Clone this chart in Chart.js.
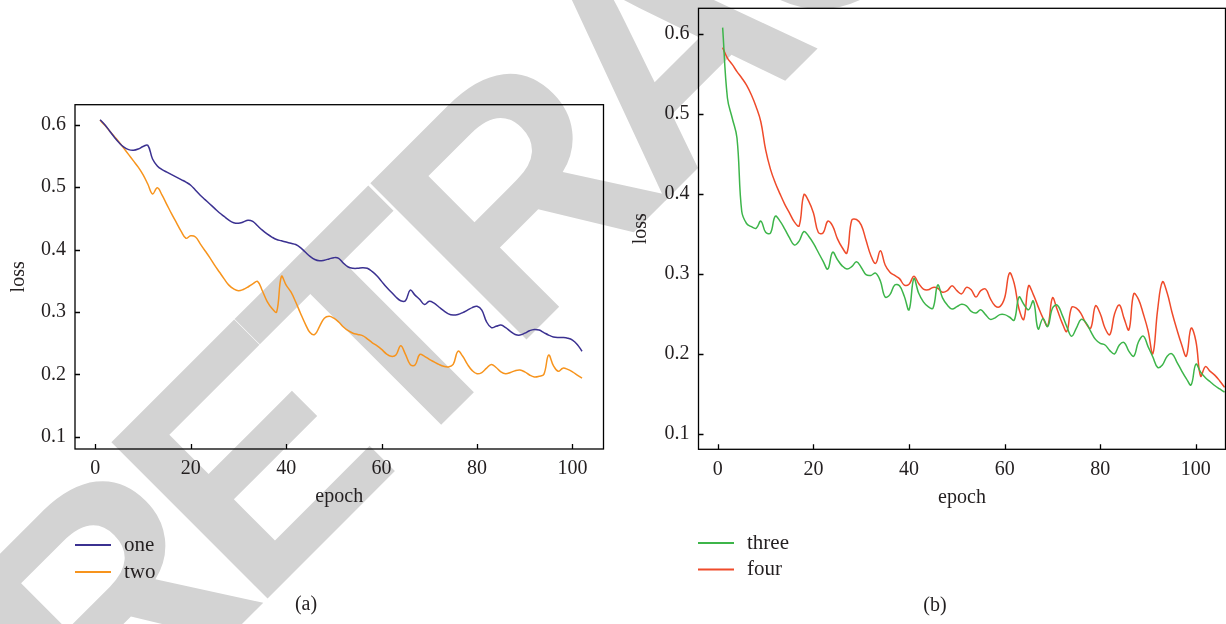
<!DOCTYPE html>
<html>
<head>
<meta charset="utf-8">
<script src="https://cdn.jsdelivr.net/npm/chart.js@4.4.0/dist/chart.umd.min.js"></script>
<style>
  html, body { margin: 0; padding: 0; background: #fff; }
  body { width: 1226px; height: 624px; position: relative; overflow: hidden; }
  #stamp {
    position: absolute; left: 104px; top: 490px;
    font: bold 321px "Liberation Sans", Arial, sans-serif;
    line-height: 1; letter-spacing: -22px; white-space: nowrap;
    color: #d3d3d3; transform-origin: 0 272px; transform: rotate(-45deg);
    z-index: 0;
  }
  canvas { position: absolute; top: 0; z-index: 1; }
  #chartA { left: 0; }
  #chartB { left: 613px; }
</style>
</head>
<body>
<div id="stamp">RETRACTED</div>
<canvas id="chartA" width="613" height="624"></canvas>
<canvas id="chartB" width="613" height="624"></canvas>
<script>
// values, one per epoch starting at epoch 1
var firstEpoch = 1;
var epochTicks = [0, 20, 40, 60, 80, 100];
var lossTicks = [0.1, 0.2, 0.3, 0.4, 0.5, 0.6];

var lossOne = [0.608,0.600,0.590,0.580,0.571,0.564,0.560,0.559,0.561,0.565,
  0.567,0.545,0.534,0.528,0.524,0.520,0.516,0.512,0.508,0.503,
  0.495,0.487,0.480,0.473,0.466,0.459,0.453,0.447,0.443,0.442,
  0.444,0.447,0.445,0.438,0.431,0.425,0.420,0.416,0.414,0.412,
  0.410,0.408,0.403,0.396,0.389,0.384,0.382,0.383,0.385,0.387,
  0.386,0.378,0.372,0.370,0.370,0.371,0.370,0.365,0.358,0.349,
  0.340,0.332,0.324,0.318,0.318,0.335,0.327,0.320,0.312,0.317,
  0.314,0.308,0.302,0.297,0.295,0.296,0.299,0.303,0.307,0.309,
  0.303,0.284,0.275,0.277,0.279,0.275,0.269,0.264,0.263,0.266,
  0.270,0.272,0.271,0.267,0.263,0.260,0.259,0.259,0.258,0.255,
  0.248,0.237];

var lossTwo = [0.607,0.599,0.590,0.581,0.572,0.562,0.552,0.542,0.532,0.520,
  0.505,0.489,0.499,0.487,0.472,0.457,0.443,0.429,0.418,0.422,
  0.420,0.409,0.398,0.387,0.375,0.364,0.353,0.343,0.337,0.334,
  0.336,0.340,0.345,0.349,0.334,0.317,0.306,0.300,0.357,0.343,
  0.332,0.316,0.298,0.281,0.267,0.264,0.277,0.290,0.293,0.290,
  0.284,0.276,0.270,0.266,0.264,0.262,0.257,0.251,0.246,0.240,
  0.233,0.229,0.231,0.246,0.232,0.216,0.215,0.232,0.229,0.224,
  0.220,0.216,0.213,0.212,0.216,0.237,0.229,0.216,0.206,0.201,
  0.203,0.210,0.216,0.211,0.204,0.201,0.203,0.206,0.207,0.204,
  0.199,0.196,0.197,0.200,0.231,0.214,0.205,0.210,0.208,0.204,
  0.199,0.194];

var lossThree = [0.608,0.520,0.495,0.470,0.378,0.363,0.359,0.357,0.366,0.352,
  0.351,0.372,0.366,0.356,0.345,0.336,0.341,0.353,0.347,0.338,
  0.327,0.316,0.306,0.327,0.318,0.310,0.306,0.309,0.315,0.308,
  0.299,0.298,0.301,0.291,0.271,0.274,0.286,0.285,0.272,0.255,
  0.294,0.276,0.265,0.259,0.257,0.286,0.270,0.261,0.256,0.259,
  0.262,0.260,0.253,0.251,0.255,0.249,0.243,0.245,0.249,0.249,
  0.246,0.242,0.271,0.262,0.255,0.266,0.231,0.244,0.234,0.257,
  0.261,0.249,0.234,0.222,0.232,0.243,0.239,0.228,0.218,0.213,
  0.211,0.204,0.200,0.211,0.214,0.203,0.197,0.215,0.222,0.209,
  0.196,0.183,0.186,0.197,0.200,0.190,0.179,0.169,0.161,0.187,
  0.177,0.170,0.165,0.160,0.156,0.152];

var lossFour = [0.583,0.570,0.562,0.553,0.545,0.536,0.524,0.509,0.490,0.455,
  0.431,0.414,0.400,0.387,0.376,0.365,0.360,0.399,0.391,0.376,
  0.352,0.351,0.366,0.360,0.344,0.333,0.326,0.367,0.368,0.361,
  0.342,0.323,0.313,0.329,0.311,0.302,0.298,0.294,0.286,0.287,
  0.297,0.288,0.281,0.280,0.283,0.282,0.277,0.279,0.285,0.279,
  0.275,0.283,0.280,0.271,0.279,0.281,0.269,0.260,0.259,0.270,
  0.301,0.288,0.256,0.243,0.285,0.274,0.259,0.245,0.235,0.270,
  0.255,0.239,0.228,0.258,0.257,0.250,0.238,0.232,0.260,0.250,
  0.232,0.224,0.250,0.261,0.244,0.230,0.275,0.268,0.250,0.229,
  0.200,0.255,0.290,0.276,0.252,0.231,0.212,0.197,0.232,0.216,
  0.172,0.184,0.178,0.173,0.166,0.158];

var inkColor = '#231f20';
var serif = '"Liberation Serif", "Times New Roman", serif';

function toPoints(values) {
  return values.map(function (v, i) { return { x: firstEpoch + i, y: v }; });
}

function line(label, values, color) {
  return {
    label: label,
    data: toPoints(values),
    borderColor: color,
    backgroundColor: color,
    borderWidth: 1.5,
    pointRadius: 0,
    tension: 0.4,
    fill: false
  };
}

// box round the plot, inward tick marks, stacked legend and panel caption
var framePlugin = {
  id: 'frame',
  afterDraw: function (chart, args, opts) {
    var ctx = chart.ctx, a = chart.chartArea;
    var sx = chart.scales.x, sy = chart.scales.y;
    ctx.save();
    ctx.strokeStyle = '#000';
    ctx.lineWidth = 1.3;
    ctx.strokeRect(a.left, a.top, a.right - a.left, a.bottom - a.top);
    ctx.beginPath();
    sx.ticks.forEach(function (t) {
      var px = Math.round(sx.getPixelForValue(t.value)) + 0.5;
      ctx.moveTo(px, a.bottom); ctx.lineTo(px, a.bottom - 5);
    });
    sy.ticks.forEach(function (t) {
      var py = Math.round(sy.getPixelForValue(t.value)) + 0.5;
      ctx.moveTo(a.left, py); ctx.lineTo(a.left + 5, py);
    });
    ctx.stroke();

    ctx.font = '21px ' + serif;
    ctx.textBaseline = 'middle';
    ctx.fillStyle = inkColor;
    chart.data.datasets.forEach(function (ds, i) {
      var y = opts.legendY + i * opts.legendGap;
      ctx.strokeStyle = ds.borderColor;
      ctx.lineWidth = 2;
      ctx.beginPath();
      ctx.moveTo(opts.legendX, y);
      ctx.lineTo(opts.legendX + 36, y);
      ctx.stroke();
      ctx.fillText(ds.label, opts.legendX + 49, y);
    });
    ctx.font = '20px ' + serif;
    ctx.textAlign = 'center';
    ctx.fillText(opts.caption, opts.captionX, opts.captionY);
    ctx.restore();
  }
};

function makeChart(id, datasets, box) {
  return new Chart(document.getElementById(id).getContext('2d'), {
    type: 'line',
    data: { datasets: datasets },
    plugins: [framePlugin],
    options: {
      responsive: false,
      animation: false,
      devicePixelRatio: 1,
      layout: { padding: box.padding },
      plugins: {
        legend: { display: false },
        tooltip: { enabled: false },
        frame: box.frame
      },
      scales: {
        x: {
          type: 'linear',
          min: box.xMin,
          max: box.xMax,
          afterBuildTicks: function (s) { s.ticks = epochTicks.map(function (v) { return { value: v }; }); },
          afterFit: function (s) { s.height = box.xHeight; s.paddingLeft = 0; s.paddingRight = 0; },
          grid: { display: false, drawTicks: false },
          border: { display: false },
          ticks: { padding: 8, color: inkColor, font: { family: serif, size: 20 },
                   callback: function (v) { return String(v); } },
          title: { display: true, text: 'epoch', color: inkColor, padding: 0,
                   font: { family: serif, size: 20 } }
        },
        y: {
          type: 'linear',
          min: box.yMin,
          max: box.yMax,
          afterBuildTicks: function (s) { s.ticks = lossTicks.map(function (v) { return { value: v }; }); },
          afterFit: function (s) { s.width = box.yWidth; s.paddingTop = 0; s.paddingBottom = 0; },
          grid: { display: false, drawTicks: false },
          border: { display: false },
          ticks: { padding: 9, color: inkColor, font: { family: serif, size: 20 },
                   callback: function (v) { return v.toFixed(1); } },
          title: { display: true, text: 'loss', color: inkColor,
                   padding: { top: box.yTitlePad, bottom: 0 },
                   font: { family: serif, size: 20 } }
        }
      }
    }
  });
}

makeChart('chartA', [
  line('one', lossOne, '#3b3191'),
  line('two', lossTwo, '#f7941d')
], {
  padding: { left: 0, top: 104.7, right: 9.5, bottom: 115 },
  xMin: -4.25, xMax: 106.5, yMin: 0.0805, yMax: 0.632,
  xHeight: 60, yWidth: 75, yTitlePad: 6.6,
  frame: { legendX: 75, legendY: 545, legendGap: 27, caption: '(a)', captionX: 306, captionY: 605 }
});

makeChart('chartB', [
  line('three', lossThree, '#3db54a'),
  line('four', lossFour, '#ef4b2b')
], {
  padding: { left: 0, top: 8.3, right: 0.5, bottom: 114 },
  xMin: -4.05, xMax: 106.2, yMin: 0.0805, yMax: 0.6322,
  xHeight: 60.7, yWidth: 85.5, yTitlePad: 15.7,
  frame: { legendX: 85, legendY: 543, legendGap: 26.5, caption: '(b)', captionX: 322, captionY: 606 }
});
</script>
</body>
</html>
